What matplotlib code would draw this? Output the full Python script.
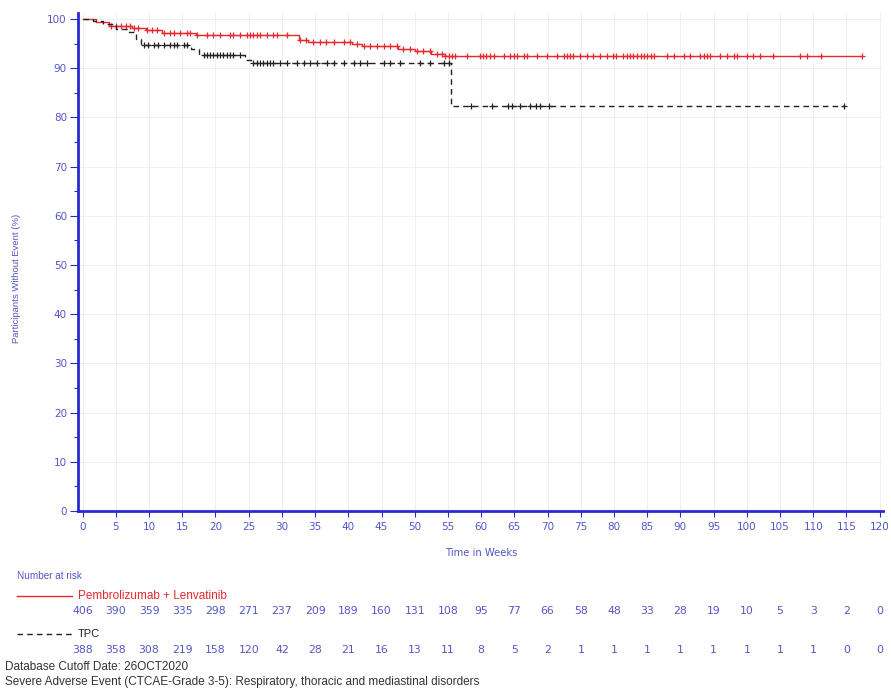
import numpy as np
import matplotlib
matplotlib.use("Agg")
import matplotlib.pyplot as plt
from matplotlib.transforms import blended_transform_factory
from matplotlib.ticker import MultipleLocator

# ---- data ----
pl_step_t = [0, 2, 4, 7.5, 9.5, 12, 17, 32.5, 34, 40.5, 42, 47.5, 50, 52.5, 54.5]
pl_step_s = [100, 99.3, 98.6, 98.1, 97.7, 97.2, 96.7, 95.8, 95.3, 94.9, 94.4, 93.9, 93.4, 92.9, 92.5]
pl_end = 117.3
pl_censor = [4.2, 5.0, 5.7, 6.5, 7.2, 7.7, 8.4, 9.7, 10.4, 11.2, 12.2, 13.2, 13.7, 14.7, 15.7,
             16.2, 17.2, 18.7, 19.7, 20.7, 22.2, 22.7, 23.7, 24.7, 25.2, 25.7, 26.2, 26.7, 27.7,
             28.7, 29.2, 30.7, 32.7, 33.7, 34.7, 35.7, 36.7, 37.8, 39.3, 40.3, 41.3, 42.3, 43.3,
             44.3, 45.3, 46.3, 47.3, 48.3, 49.3, 50.3, 51.3, 52.3, 53.3,
             54.1, 54.6, 55.1, 55.6, 56.1, 57.8, 59.8, 60.3, 60.8, 61.3, 61.9, 63.4, 64.4, 64.9,
             65.4, 66.4, 66.9, 68.4, 69.9, 71.4, 72.4, 72.9, 73.4, 73.9, 74.9, 75.9, 76.9, 77.9,
             78.9, 79.9, 80.3, 81.4, 81.9, 82.4, 82.9, 83.4, 84.0, 84.5, 85.0, 85.5, 86.0, 88.0,
             89.0, 90.5, 91.5, 93.0, 93.5, 94.0, 94.5, 96.0, 97.0, 98.0, 98.5, 100.0, 101.0,
             102.0, 104.0, 108.0, 109.0, 111.1, 117.3]

tpc_step_t = [0, 1.5, 3.0, 5.0, 7.0, 8.0, 8.8, 16.3, 17.5, 24.5, 25.3, 55.5]
tpc_step_s = [100, 99.5, 98.9, 98.0, 97.3, 96.0, 94.7, 93.8, 92.7, 91.7, 91.0, 82.2]
tpc_end = 114.6
tpc_censor = [9.2, 9.8, 10.7, 11.3, 12.2, 13.2, 13.7, 14.2, 15.2, 15.7, 18.2, 18.7, 19.2, 19.7,
              20.2, 20.7, 21.2, 21.7, 22.2, 22.7, 23.7, 25.7, 26.2, 26.7, 27.2, 27.7, 28.2,
              28.7, 29.7, 30.7, 32.2, 33.3, 34.3, 35.3, 36.8, 37.8, 39.3, 40.8, 41.8, 42.8,
              45.3, 46.3, 47.8, 50.8, 52.3, 54.4, 55.2, 58.4, 61.6, 64.1, 64.6, 65.9, 67.4,
              68.2, 68.9, 70.2, 114.6]

risk_times = list(range(0, 121, 5))
pl_risk = [406, 390, 359, 335, 298, 271, 237, 209, 189, 160, 131, 108, 95, 77, 66, 58, 48, 33,
           28, 19, 10, 5, 3, 2, 0]
tpc_risk = [388, 358, 308, 219, 158, 120, 42, 28, 21, 16, 13, 11, 8, 5, 2, 1, 1, 1, 1, 1, 1,
            1, 1, 0, 0]

pl_label = "Pembrolizumab + Lenvatinib"
tpc_label = "TPC"
footer1 = "Database Cutoff Date: 26OCT2020"
footer2 = "Severe Adverse Event (CTCAE-Grade 3-5): Respiratory, thoracic and mediastinal disorders"

# ---- styling ----
RED = "#e8282e"
BLACK = "#222222"
BLUE_AX = "#2a2acc"
BLUE_TXT = "#5555c8"
W, H = 891, 691

fig = plt.figure(figsize=(W / 100, H / 100), dpi=100)
ax = fig.add_axes([78 / W, 1 - 511 / H, (883 - 78) / W, (511 - 13) / H])


def surv_at(times, st, ss):
    idx = np.searchsorted(np.array(st), np.array(times), side="right") - 1
    return np.array(ss)[idx]


# red curve
t_r = pl_step_t + [pl_end]
s_r = pl_step_s + [pl_step_s[-1]]
ax.step(t_r, s_r, where="post", color=RED, lw=1.0, zorder=3)
ax.plot(pl_censor, surv_at(pl_censor, pl_step_t, pl_step_s), ls="none", marker="+",
        ms=5, mew=0.9, color=RED, zorder=3)

# black dashed curve
t_b = tpc_step_t + [tpc_end]
s_b = tpc_step_s + [tpc_step_s[-1]]
ax.step(t_b, s_b, where="post", color=BLACK, lw=1.0, dashes=(4, 3), zorder=4)
ax.plot(tpc_censor, surv_at(tpc_censor, tpc_step_t, tpc_step_s), ls="none", marker="+",
        ms=5, mew=0.9, color=BLACK, zorder=4)

ax.set_xlim(-0.7, 120.5)
ax.set_ylim(0, 101.2)
ax.xaxis.set_major_locator(MultipleLocator(5))
ax.yaxis.set_major_locator(MultipleLocator(10))
ax.yaxis.set_minor_locator(MultipleLocator(5))
ax.grid(True, which="major", color="#f0f0f0", lw=0.7)
ax.set_axisbelow(True)
for side in ["top", "right"]:
    ax.spines[side].set_visible(False)
for side in ["left", "bottom"]:
    ax.spines[side].set_color(BLUE_AX)
    ax.spines[side].set_linewidth(2.0)
ax.tick_params(axis="x", which="major", length=4, width=0.8, color=BLUE_AX,
               labelcolor=BLUE_TXT, labelsize=7.5, pad=4)
ax.tick_params(axis="y", which="major", length=6, width=0.8, color=BLUE_AX,
               labelcolor=BLUE_TXT, labelsize=7.5, pad=2)
ax.tick_params(axis="y", which="minor", length=3, width=0.8, color=BLUE_AX)
for lab in ax.get_xticklabels() + ax.get_yticklabels():
    lab.set_family("DejaVu Sans")

fig.text(17 / W, 1 - 278 / H, "Participants Without Event (%)", rotation=90,
         ha="center", va="center", color=BLUE_TXT, fontsize=6.8, family="Liberation Sans")

tr = blended_transform_factory(ax.transData, fig.transFigure)
ax.text(60, 1 - 553 / H, "Time in Weeks", transform=tr, ha="center", va="center",
        color=BLUE_TXT, fontsize=7.2, family="DejaVu Sans")

fig.text(17 / W, 1 - 576 / H, "Number at risk", ha="left", va="center", color=BLUE_TXT,
         fontsize=7.2, family="Liberation Sans")

fig.add_artist(plt.Line2D([17 / W, 72 / W], [1 - 596 / H] * 2, color=RED, lw=1.0))
fig.text(78 / W, 1 - 596 / H, pl_label, ha="left", va="center", color=RED, fontsize=8.5,
         family="Liberation Sans")
fig.add_artist(plt.Line2D([17 / W, 72 / W], [1 - 634 / H] * 2, color=BLACK, lw=1.0,
                          dashes=(4, 3)))
fig.text(78 / W, 1 - 634 / H, tpc_label, ha="left", va="center", color=BLACK, fontsize=8.0,
         family="Liberation Sans")

for t, n in zip(risk_times, pl_risk):
    ax.text(t, 1 - 611 / H, str(n), transform=tr, ha="center", va="center",
            color=BLUE_TXT, fontsize=7.8, family="DejaVu Sans")
for t, n in zip(risk_times, tpc_risk):
    ax.text(t, 1 - 650 / H, str(n), transform=tr, ha="center", va="center",
            color=BLUE_TXT, fontsize=7.8, family="DejaVu Sans")

fig.text(5 / W, 1 - 667 / H, footer1, ha="left", va="center", color="#333333",
         fontsize=8.5, family="Liberation Sans")
fig.text(5 / W, 1 - 682 / H, footer2, ha="left", va="center", color="#333333",
         fontsize=8.5, family="Liberation Sans")

fig.savefig("out.png", dpi=100)
